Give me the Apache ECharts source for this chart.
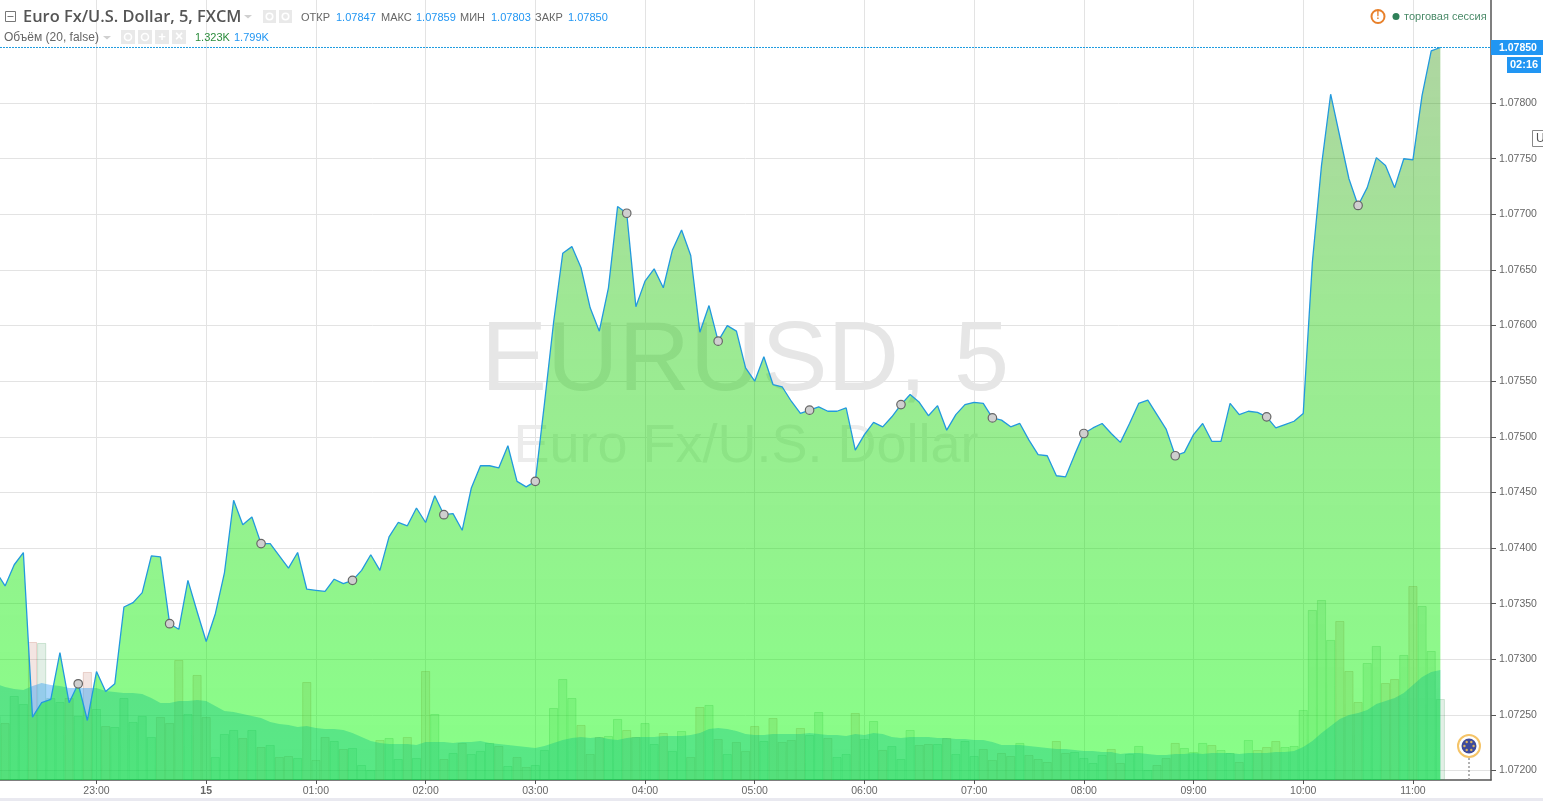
<!DOCTYPE html>
<html><head><meta charset="utf-8">
<style>html,body{margin:0;padding:0;background:#fff;overflow:hidden}#c{width:1543px;height:801px}</style>
<script src="https://cdn.jsdelivr.net/npm/echarts@6/dist/echarts.min.js"></script>
</head><body><div id="c"></div>
<script>
// 5-minute bars: bar 0 = 22:05, bar 11 = 23:00
const closes = [
1.07379,1.07366,1.07385,1.07396,1.07248,1.07261,1.07264,1.07306,1.07261,1.07278,1.07245,
1.07289,1.07271,1.07278,1.07347,1.07351,1.07360,1.07393,1.07392,1.07332,1.07327,1.07371,1.07343,
1.07316,1.07341,1.07378,1.07443,1.07421,1.07428,1.07404,1.07404,1.07393,1.07382,1.07396,1.07363,
1.07362,1.07361,1.07372,1.07368,1.07371,1.07380,1.07394,1.07380,1.07410,1.07423,1.07420,1.07436,
1.07423,1.07447,1.07430,1.07431,1.07416,1.07454,1.07474,1.07474,1.07472,1.07492,1.07460,1.07455,
1.07460,1.07530,1.07603,1.07665,1.07671,1.07652,1.07616,1.07595,1.07634,1.07707,1.07701,1.07617,
1.07640,1.07651,1.07634,1.07668,1.07686,1.07663,1.07594,1.07618,1.07586,1.07600,1.07595,1.07562,
1.07550,1.07572,1.07547,1.07545,1.07532,1.07521,1.07524,1.07527,1.07523,1.07523,1.07526,1.07488,
1.07502,1.07513,1.07509,1.07518,1.07529,1.07538,1.07531,1.07519,1.07528,1.07506,1.07520,1.07529,
1.07531,1.07530,1.07517,1.07515,1.07509,1.07512,1.07497,1.07484,1.07483,1.07465,1.07464,1.07484,
1.07503,1.07508,1.07512,1.07503,1.07495,1.07512,1.07530,1.07533,1.07520,1.07507,1.07483,1.07486,
1.07502,1.07512,1.07496,1.07496,1.07530,1.07520,1.07523,1.07522,1.07518,1.07508,1.07511,1.07514,
1.07521,1.07657,1.07744,1.07808,1.07770,1.07732,1.07708,1.07724,1.07751,1.07744,1.07724,1.07750,
1.07749,1.07807,1.07847,1.07850];
const volumes = [
1046,931,1373,1242,2255,2239,1340,1275,1340,1046,1765,
1160,882,866,1340,948,1046,703,1029,931,1961,1078,1716,
1029,376,752,817,686,817,539,572,376,392,359,1601,
327,703,637,507,523,245,163,654,686,343,703,
359,1781,1078,343,441,605,425,474,605,556,229,
376,212,245,490,1176,1650,1340,899,425,703,719,997,
817,703,931,588,768,474,801,376,1193,1226,670,425,
621,474,882,637,1013,621,654,850,735,1111,686,376,
425,1095,670,964,490,556,343,817,572,588,588,686,
425,637,392,507,327,441,392,605,409,343,294,637,
441,458,359,278,409,507,278,425,556,163,245,359,
605,523,458,605,572,490,441,294,654,490,539,637,
539,556,1144,2778,2941,2288,2598,1781,1275,1912,2190,1585,
1650,2043,3170,2843,2108,1323];
const volumeMA = [
1569,1520,1487,1471,1536,1585,1552,1536,1503,1503,1503,
1503,1454,1438,1422,1422,1405,1340,1258,1258,1291,1291,1307,
1291,1209,1127,1111,1078,1046,1013,948,915,899,866,882,
850,833,833,817,768,703,637,605,588,588,588,572,
621,621,621,605,621,621,637,605,588,572,556,539,
523,556,605,654,686,703,686,703,670,654,686,703,
703,703,719,719,719,735,768,833,850,833,801,752,
735,735,752,752,752,752,768,752,735,735,719,752,
735,768,752,703,686,703,703,703,686,686,670,670,
654,654,621,572,572,572,556,539,523,507,507,490,
474,474,458,458,425,441,441,425,409,409,425,425,
441,425,441,441,441,425,441,441,441,458,458,474,
539,637,768,882,997,1062,1095,1144,1242,1291,1340,1422,
1552,1683,1765,1799];
const markerBars = [9,19,29,39,49,59,69,79,89,99,109,119,129,139,149];
const timeTickBars = [11,23,35,47,59,71,83,95,107,119,131,143,155];
const timeTickLabels = ['23:00','15','01:00','02:00','03:00','04:00','05:00','06:00','07:00','08:00','09:00','10:00','11:00'];
const priceTicks = [1.072,1.0725,1.073,1.0735,1.074,1.0745,1.075,1.0755,1.076,1.0765,1.077,1.0775,1.078];
const lastPrice = 1.0785;
const xMin = 0.444, xMax = 163.54;

const BLUE='#2196f3', GREY='#666', FONT='"Liberation Sans",Arial,sans-serif';
const up=[60,150,85], down=[175,80,60];
const barData = volumes.map((v,i)=>{
  const c = (i===0||closes[i]>=closes[i-1])?up:down;
  return {value:[i,v],itemStyle:{color:`rgba(${c},0.15)`,borderColor:`rgba(${c},0.22)`,borderWidth:1}};
});
const T=(x,y,text,o={},z=50)=>({type:'text',x,y,z,silent:true,style:Object.assign({text,fill:GREY,font:'11.5px '+FONT,verticalAlign:'middle'},o)});
const V=(x,y,text,fill=BLUE,size=11)=>T(x,y,text,{fill,font:size+'px '+FONT});
const R=(x,y,w,h,fill,z=50,extra={})=>({type:'rect',z,silent:true,shape:{x,y,width:w,height:h},style:Object.assign({fill},extra)});
const C=(cx,cy,r,style,z=50)=>({type:'circle',z,silent:true,shape:{cx,cy,r},style});
const caret=(x,y)=>({type:'polygon',z:50,silent:true,shape:{points:[[x,y],[x+8,y],[x+4,y+3.5]]},style:{fill:'#d0d0d0'}});
const eye=(x,y,s)=>[R(x,y,s,s,'#e9e9e9'),C(x+s/2,y+s/2,s/4,{fill:'none',stroke:'#fff',lineWidth:1.6})];
const dots=[0,1,2,3,4,5].map(a=>C(1469+4.6*Math.cos(a*Math.PI/3),746+4.6*Math.sin(a*Math.PI/3),1.2,{fill:'#d8b060'},52));

const graphics=[
  T(745,363,'EURUSD, 5',{font:'99px '+FONT,fill:'#e6e6e6',align:'center'},1),
  T(746,447,'Euro Fx/U.S. Dollar',{font:'54px '+FONT,fill:'#ececec',align:'center'},1),
  R(5.5,11.5,10,10,'#fff',50,{stroke:'#777',lineWidth:1}),R(7.5,16,6,1,'#777'),
  T(23,17.5,'Euro Fx/U.S. Dollar, 5, FXCM',{font:'600 16.4px "Open Sans",Arial,sans-serif',fill:'#555'}),
  caret(244,15),...eye(263,10,13),...eye(279,10,13),
  T(301,17.5,'ОТКР',{font:'11px '+FONT}),V(336,17.5,'1.07847'),
  T(381,17.5,'МАКС',{font:'11px '+FONT}),V(416,17.5,'1.07859'),
  T(460,17.5,'МИН',{font:'11px '+FONT}),V(491,17.5,'1.07803'),
  T(535,17.5,'ЗАКР',{font:'11px '+FONT}),V(568,17.5,'1.07850'),
  T(4,37.5,'Объём (20, false)',{font:'12px '+FONT}),
  caret(103,36),...eye(121,30,14),...eye(138,30,14),R(155,30,14,14,'#e9e9e9'),R(172,30,14,14,'#e9e9e9'),
  T(162,37,'+',{fill:'#fff',font:'bold 13px '+FONT,align:'center'}),T(179,37,'×',{fill:'#fff',font:'bold 14px '+FONT,align:'center'}),
  V(195,37.5,'1.323K','#2a8c3b',11),V(234,37.5,'1.799K',BLUE,11),
  C(1378,16.5,6.5,{fill:'#fff',stroke:'#e8802a',lineWidth:2}),
  T(1378,16.5,'!',{fill:'#e8802a',font:'bold 10px '+FONT,align:'center'}),
  C(1396,16.5,3.5,{fill:'#2e8058'}),
  T(1404,16.5,'торговая сессия',{font:'11px '+FONT,fill:'#4a8a68'}),
  R(1491,40,52,15,BLUE),T(1499,48,'1.07850',{fill:'#fff',font:'bold 10.5px '+FONT}),
  R(1507,57,34,16,BLUE),T(1510,65,'02:16',{fill:'#fff',font:'bold 11px '+FONT}),
  R(1532.5,130.5,12,16,'#fff',50,{stroke:'#888',lineWidth:1}),T(1536,138.5,'U',{fill:'#555',font:'12px '+FONT}),
  R(0,798,1543,3,'#e9e9f0'),
  {type:'line',z:50,silent:true,shape:{x1:1469,y1:758,x2:1469,y2:780},style:{stroke:'#999',lineWidth:1.5,lineDash:[2,2]}},
  C(1469,746,11,{fill:'#fff',stroke:'#f5c468',lineWidth:2},51),C(1469,746,7.5,{fill:'#3d4a9c'},51),...dots
];

const option={
  animation:false,
  grid:{left:0,top:0,width:1491,height:780,containLabel:false,outerBoundsMode:'none'},
  xAxis:{type:'value',min:xMin,max:xMax,
    axisLine:{show:true,onZero:false,lineStyle:{color:'#555',width:1.5}},
    axisTick:{show:true,length:4,customValues:timeTickBars,lineStyle:{color:'#555'}},
    axisLabel:{show:true,customValues:timeTickBars,color:GREY,fontSize:10.5,fontFamily:FONT,margin:6,
      formatter:v=>{const s=timeTickLabels[timeTickBars.indexOf(v)];return s==='15'?'{b|15}':s;},
      rich:{b:{fontWeight:'bold',color:GREY,fontSize:10.5,fontFamily:FONT}}},
    splitLine:{show:true,lineStyle:{color:'#e3e3e3',width:1}}},
  yAxis:[
   {type:'value',position:'right',min:1.071915,max:1.078927,scale:true,
    axisLine:{show:true,lineStyle:{color:'#555',width:1.5}},
    axisTick:{show:true,length:5,customValues:priceTicks,lineStyle:{color:'#555'}},
    axisLabel:{show:true,customValues:priceTicks,color:GREY,fontSize:10.5,fontFamily:FONT,margin:8,formatter:v=>v.toFixed(5)},
    splitLine:{show:true,lineStyle:{color:'#e3e3e3',width:1}}},
   {type:'value',min:0,max:12745,show:false,splitLine:{show:false}}],
  series:[
   {name:'Объём',type:'bar',yAxisIndex:1,barWidth:9.14,z:2,data:barData,silent:true},
   {name:'MA',type:'line',yAxisIndex:1,z:3,symbol:'none',silent:true,lineStyle:{width:0},
    areaStyle:{color:'rgba(33,150,243,0.4)',opacity:1},
    data:volumeMA.map((v,i)=>[i,v])},
   {name:'EURUSD',type:'line',yAxisIndex:0,z:4,symbol:'none',silent:true,
    lineStyle:{color:'#2299dd',width:1.3},
    areaStyle:{opacity:1,color:{type:'linear',x:0,y:0,x2:0,y2:1,colorStops:[
      {offset:0,color:'rgba(36,144,0,0.37)'},{offset:0.35,color:'rgba(24,200,0,0.42)'},{offset:1,color:'rgba(0,255,0,0.47)'}]}},
    data:closes.map((v,i)=>[i,v])},
   {name:'last',type:'line',yAxisIndex:0,z:6,symbol:'none',silent:true,
    lineStyle:{color:'#1e9be0',type:[2,1],width:1},
    data:[[xMin,lastPrice],[xMax,lastPrice]]},
   {name:'marks',type:'scatter',yAxisIndex:0,z:5,silent:true,symbol:'circle',symbolSize:8.5,
    itemStyle:{color:'#cfcfcf',borderColor:'#666',borderWidth:1.2,opacity:1},
    data:markerBars.map(i=>[i,closes[i]])}
  ],
  graphic:{elements:graphics}
};
const chart=echarts.init(document.getElementById('c'),null,{renderer:'canvas'});
chart.setOption(option);
</script></body></html>
